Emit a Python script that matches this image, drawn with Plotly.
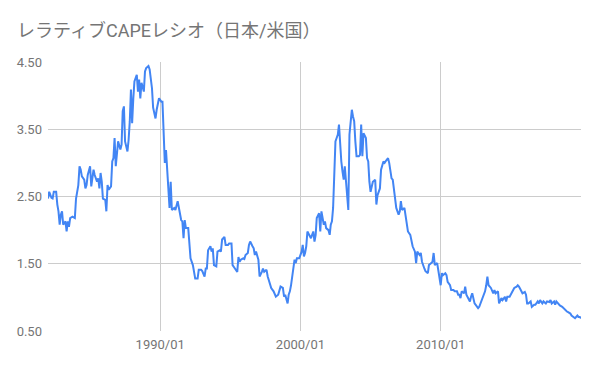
import plotly.graph_objects as go

title_text = "レラティブCAPEレシオ（日本/米国）"

dates = [
    "1982-01","1982-02","1982-04","1982-05","1982-06","1982-08","1982-09","1982-10","1982-11","1982-12",
    "1983-01","1983-02","1983-04","1983-05","1983-06","1983-07","1983-08","1983-10","1983-12",
    "1984-01","1984-03","1984-04","1984-05","1984-06","1984-08","1984-09","1984-10","1984-11",
    "1985-01","1985-02","1985-04","1985-05","1985-07","1985-08","1985-09","1985-10","1985-11","1985-12",
    "1986-02","1986-03","1986-04","1986-05","1986-07","1986-08","1986-09","1986-10","1986-11","1986-12",
    "1987-01","1987-03","1987-04","1987-05","1987-06","1987-07","1987-09","1987-10","1987-11","1987-12",
    "1988-01","1988-02","1988-03","1988-05","1988-06","1988-07","1988-08","1988-09","1988-11","1988-12",
    "1989-01","1989-03","1989-04","1989-06","1989-07","1989-09","1989-10","1989-12",
    "1990-02","1990-03","1990-04","1990-05","1990-06","1990-07","1990-08","1990-09","1990-10","1990-11",
    "1991-01","1991-02","1991-04","1991-05","1991-07","1991-08","1991-09","1991-10","1991-11",
    "1992-01","1992-02","1992-03","1992-05","1992-06","1992-07","1992-09","1992-10","1992-12",
    "1993-01","1993-03","1993-04","1993-05","1993-06","1993-08","1993-09","1993-10","1993-11",
    "1994-01","1994-02","1994-04","1994-05","1994-06","1994-08","1994-09","1994-11","1994-12",
    "1995-02","1995-03","1995-04","1995-05","1995-07","1995-08","1995-09","1995-10","1995-12",
    "1996-01","1996-02","1996-04","1996-05","1996-06","1996-08","1996-09","1996-10","1996-11",
    "1997-01","1997-02","1997-04","1997-05","1997-06","1997-08","1997-09","1997-11","1997-12",
    "1998-02","1998-03","1998-04","1998-06","1998-07","1998-08","1998-10","1998-11","1998-12",
    "1999-02","1999-03","1999-04","1999-05","1999-07","1999-08","1999-09","1999-10","1999-12",
    "2000-01","2000-02","2000-03","2000-04","2000-05","2000-06","2000-07","2000-09","2000-10","2000-12",
    "2001-01","2001-02","2001-03","2001-05","2001-06","2001-07","2001-09","2001-10","2001-11",
    "2002-01","2002-02","2002-03","2002-04","2002-05","2002-06","2002-07","2002-08","2002-09","2002-10","2002-11","2002-12",
    "2003-01","2003-02","2003-03","2003-04","2003-05","2003-06","2003-07","2003-08","2003-09","2003-10","2003-11","2003-12",
    "2004-01","2004-03","2004-04","2004-05","2004-06","2004-07","2004-08","2004-09","2004-10","2004-11","2004-12",
    "2005-01","2005-03","2005-04","2005-05","2005-06","2005-07","2005-09","2005-10","2005-12",
    "2006-01","2006-03","2006-04","2006-05","2006-07","2006-08","2006-09","2006-10","2006-11",
    "2007-01","2007-02","2007-03","2007-04","2007-06","2007-07","2007-08","2007-09","2007-11","2007-12",
    "2008-01","2008-03","2008-04","2008-05","2008-07","2008-08","2008-09","2008-11","2008-12",
    "2009-02","2009-03","2009-05","2009-06","2009-07","2009-08","2009-10","2009-11","2009-12",
    "2010-01","2010-02","2010-03","2010-05","2010-06","2010-07","2010-09","2010-10","2010-12",
    "2011-01","2011-03","2011-04","2011-05","2011-06","2011-07","2011-09","2011-10","2011-11",
    "2012-01","2012-02","2012-03","2012-04","2012-06","2012-07","2012-09","2012-10","2012-11",
    "2013-01","2013-02","2013-03","2013-04","2013-05","2013-06","2013-08","2013-10","2013-11","2013-12",
    "2014-02","2014-03","2014-05","2014-06","2014-08","2014-09","2014-10","2014-12",
    "2015-01","2015-03","2015-04","2015-06","2015-07","2015-08","2015-10","2015-11",
    "2016-01","2016-02","2016-03","2016-04","2016-06","2016-07","2016-09","2016-10","2016-12",
    "2017-01","2017-02","2017-04","2017-05","2017-07","2017-08","2017-10","2017-11","2017-12",
    "2018-02","2018-03","2018-04","2018-06","2018-07","2018-09","2018-10","2018-12",
    "2019-01","2019-02","2019-04","2019-05","2019-07","2019-08","2019-10","2019-11","2019-12",
    "2020-01",
]

ratio = [
    2.47,2.57,2.48,2.47,2.57,2.57,2.38,2.28,2.08,2.23,
    2.28,2.08,2.13,1.98,2.13,2.05,2.18,2.20,2.18,
    2.47,2.67,2.95,2.90,2.80,2.75,2.62,2.67,2.82,
    2.95,2.65,2.90,2.82,2.72,2.77,2.62,2.85,2.72,2.47,
    2.45,2.28,2.67,2.60,2.65,3.02,3.07,3.37,2.95,3.17,
    3.32,3.20,3.27,3.77,3.84,3.32,3.17,3.34,3.62,4.09,
    3.59,3.96,4.21,4.31,4.06,4.24,3.96,4.19,4.06,4.36,
    4.41,4.44,4.39,4.11,3.82,3.66,3.79,3.96,
    3.91,3.91,3.47,3.00,3.19,2.90,2.72,2.33,2.72,2.30,
    2.33,2.30,2.43,2.35,2.15,2.13,1.88,2.15,2.03,
    2.03,1.73,1.58,1.48,1.36,1.28,1.28,1.41,1.41,
    1.39,1.31,1.43,1.43,1.70,1.76,1.68,1.73,1.48,
    1.46,1.68,1.70,1.68,1.86,1.90,1.78,1.78,1.80,
    1.80,1.48,1.46,1.43,1.38,1.60,1.53,1.56,1.58,
    1.57,1.63,1.66,1.78,1.83,1.76,1.73,1.63,1.68,
    1.56,1.31,1.38,1.43,1.38,1.41,1.31,1.18,1.14,
    1.09,1.06,1.01,1.04,1.11,1.16,1.14,1.01,1.04,
    0.91,1.04,1.09,1.18,1.43,1.56,1.51,1.58,1.58,
    1.63,1.68,1.78,1.61,1.66,1.76,1.98,1.90,1.88,1.98,
    1.83,1.93,2.18,2.25,1.98,2.28,2.08,2.13,2.03,
    2.00,1.93,2.08,2.13,2.33,2.87,3.32,3.37,3.42,3.57,3.27,3.02,
    2.87,2.75,2.95,2.72,2.52,2.30,3.42,3.62,3.79,3.69,3.62,3.32,
    3.10,3.10,3.12,3.57,3.10,3.44,3.39,3.37,3.07,3.02,2.72,
    2.57,2.72,2.73,2.75,2.38,2.52,2.62,2.90,3.02,
    3.00,3.05,3.07,3.00,2.77,2.75,2.62,2.50,2.33,
    2.23,2.28,2.43,2.30,2.33,2.20,2.03,1.98,1.93,1.83,
    1.76,1.68,1.51,1.68,1.63,1.66,1.53,1.43,1.39,
    1.36,1.48,1.51,1.53,1.66,1.48,1.51,1.38,1.23,
    1.18,1.36,1.33,1.36,1.33,1.23,1.18,1.11,1.11,
    1.09,1.09,1.04,1.04,0.99,1.09,1.06,1.16,1.04,
    0.96,0.94,1.01,1.06,0.91,0.89,0.84,0.86,0.91,
    0.99,1.04,1.09,1.18,1.31,1.18,1.14,1.06,1.11,1.06,
    1.09,0.91,0.99,0.96,1.01,0.94,1.01,1.01,
    1.04,1.09,1.14,1.16,1.18,1.16,1.09,1.06,
    1.08,1.04,0.91,0.91,0.94,0.86,0.89,0.89,0.94,
    0.91,0.96,0.91,0.94,0.91,0.94,0.93,0.96,0.91,
    0.94,0.89,0.94,0.89,0.88,0.86,0.84,0.81,
    0.79,0.78,0.76,0.73,0.71,0.69,0.73,0.71,0.71,
    0.69,
]

x_tick_vals = ["1990-01-01", "2000-01-01", "2010-01-01", "2020-01-01"]
x_tick_text = ["1990/01", "2000/01", "2010/01", ""]
y_tick_vals = [0.5, 1.5, 2.5, 3.5, 4.5]
y_tick_text = ["0.50", "1.50", "2.50", "3.50", "4.50"]

FONT = "Roboto, 'Noto Sans CJK JP', sans-serif"

fig = go.Figure(
    go.Scatter(
        x=dates,
        y=ratio,
        mode="lines",
        line=dict(color="#4285F4", width=2),
        hoverinfo="x+y",
    )
)

fig.update_layout(
    width=600,
    height=371,
    margin=dict(l=48, r=19, t=62, b=40),
    paper_bgcolor="white",
    plot_bgcolor="white",
    showlegend=False,
    font=dict(family=FONT, size=13, color="#757575"),
    title=dict(
        text=title_text,
        font=dict(family=FONT, size=18, color="#757575"),
        x=17 / 600,
        xref="container",
        xanchor="left",
        y=1 - 31 / 371,
        yref="container",
        yanchor="middle",
    ),
)

fig.update_xaxes(
    type="date",
    range=["1982-01-01", "2020-01-03"],
    tickvals=x_tick_vals,
    ticktext=x_tick_text,
    showgrid=True,
    gridcolor="#cccccc",
    gridwidth=1,
    zeroline=False,
    showline=False,
    ticks="",
    ticklabelstandoff=4,
    tickfont=dict(family=FONT, size=13, color="#757575"),
)

fig.update_yaxes(
    range=[0.5, 4.5],
    tickvals=y_tick_vals,
    ticktext=y_tick_text,
    showgrid=True,
    gridcolor="#cccccc",
    gridwidth=1,
    zeroline=False,
    showline=False,
    ticks="",
    ticklabelstandoff=5,
    tickfont=dict(family=FONT, size=13, color="#757575"),
)

fig.write_html(
    "out.html",
    config={"displayModeBar": False},
    post_script="document.body.style.margin='0';document.body.style.padding='0';",
)
